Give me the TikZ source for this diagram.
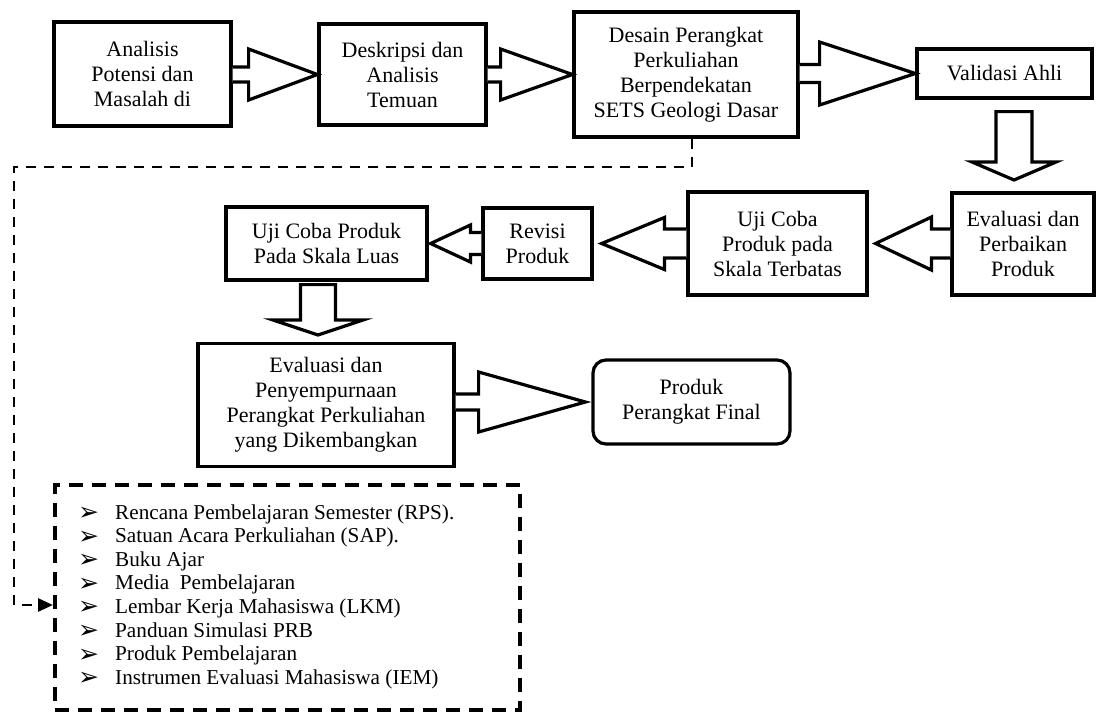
\documentclass[tikz,border=0pt]{standalone}
\usepackage{fontspec}
\setmainfont{Liberation Serif}
\newfontfamily\djv{DejaVu Sans}
\usetikzlibrary{arrows.meta,calc}
% horizontal block arrow: start anchor, tip point, shaft length, shaft half height, head half height
\newcommand\harrow[5]{%
  \draw[blk] let \p1=(#1), \p2=(#2) in
    (\x1,{\y2+#4}) -- ({\x1+(#3)},{\y2+#4}) -- ({\x1+(#3)},{\y2+#5}) -- (\x2,\y2)
    -- ({\x1+(#3)},{\y2-#5}) -- ({\x1+(#3)},{\y2-#4}) -- (\x1,{\y2-#4});}
% vertical (downward) block arrow: start point (top of shaft), tip point, shaft half width, head half width, head length
\newcommand\varrow[5]{%
  \draw[blk] let \p1=(#1), \p2=(#2) in
    ({\x2-#3},\y1) -- ({\x2-#3},{\y2+#5}) -- ({\x2-#4},{\y2+#5}) -- (\x2,\y2)
    -- ({\x2+#4},{\y2+#5}) -- ({\x2+#3},{\y2+#5}) -- ({\x2+#3},\y1) -- cycle;}
\newcommand\blt{\makebox[37pt][l]{\raisebox{-1.5pt}[0pt][0pt]{\djv\fontsize{25}{25}\selectfont ➢}}}
\begin{document}
\begin{tikzpicture}[x=1pt,y=-1pt,
  box/.style={draw, line width=3.2pt, align=center, inner sep=0pt,
    font=\fontsize{22}{25}\selectfont},
  blk/.style={draw, line width=3.2pt, line join=miter, fill=white},
  dcon/.style={line width=2.8pt, dash pattern=on 10pt off 8pt,
    -{Triangle[length=15pt,width=13pt]}},
  dbox/.style={draw, line width=4pt, dash pattern=on 14pt off 9pt}]
\useasboundingbox (0,0) rectangle (1097,713);

% boxes
\node[box, minimum width=177pt, minimum height=104pt] (n1) at (142.5,74)
  {Analisis\\Potensi dan\\Masalah di};
\node[box, minimum width=167pt, minimum height=101pt] (n2) at (402.5,74.5)
  {Deskripsi dan\\Analisis\\Temuan};
\node[box, minimum width=224pt, minimum height=125pt] (n3) at (686,74.5)
  {Desain Perangkat\\Perkuliahan\\Berpendekatan\\SETS Geologi Dasar};
\node[box, minimum width=175pt, minimum height=49pt] (n4) at (1004.5,73.5)
  {Validasi Ahli};
\node[box, minimum width=142pt, minimum height=102pt] (n5) at (1023,244)
  {Evaluasi dan\\Perbaikan\\Produk};
\node[box, minimum width=179pt, minimum height=103pt] (n6) at (777.5,243.5)
  {Uji Coba\\Produk pada\\Skala Terbatas};
\node[box, minimum width=109pt, minimum height=71pt] (n7) at (537.5,243.5)
  {Revisi\\Produk};
\node[box, minimum width=201pt, minimum height=73pt] (n8) at (326.5,243.5)
  {Uji Coba Produk\\Pada Skala Luas};
\node[box, minimum width=256pt, minimum height=123pt] (n9) at (326,405)
  {Evaluasi dan\\Penyempurnaan\\Perangkat Perkuliahan\\yang Dikembangkan};
\node[box, rounded corners=13pt, minimum width=197pt, minimum height=84pt] (n10) at (691.5,402)
  {Produk\\Perangkat Final};
\node[dbox, minimum width=465pt, minimum height=225pt] (n11) at (287.5,597.5) {};
\node[anchor=base west, inner sep=0pt, font=\fontsize{21.2}{23.6}\selectfont] (lst) at (78,519)
  {\begin{tabular}[t]{@{}l@{}}
   \blt Rencana Pembelajaran Semester (RPS).\\
   \blt Satuan Acara Perkuliahan (SAP).\\
   \blt Buku Ajar\\
   \blt Media~ Pembelajaran\\
   \blt Lembar Kerja Mahasiswa (LKM)\\
   \blt Panduan Simulasi PRB\\
   \blt Produk Pembelajaran\\
   \blt Instrumen Evaluasi Mahasiswa (IEM)
   \end{tabular}};

% block arrows
\harrow{n1.east}{n2.west}{16pt}{7.5pt}{25.5pt}
\harrow{n2.east}{n3.west}{13pt}{7.5pt}{25.5pt}
\harrow{n3.east}{n4.west}{20pt}{9pt}{31.5pt}
\coordinate (tA) at (1014,180);
\varrow{[yshift=-12pt]n4.south}{tA}{18pt}{42pt}{18pt}
\harrow{n5.west}{[xshift=7pt]n6.east}{-19pt}{14.5pt}{26.5pt}
\harrow{n6.west}{[xshift=8pt]n7.east}{-22pt}{14.5pt}{26pt}
\harrow{n7.west}{[xshift=2pt]n8.east}{-11pt}{11pt}{18.5pt}
\coordinate (tE) at (318,335);
\varrow{[yshift=-3pt]n8.south}{tE}{17.5pt}{45pt}{15pt}
\harrow{n9.east}{[xshift=-6pt]n10.west}{23pt}{8pt}{30pt}

% dashed connector
\coordinate (d1) at (14,167);
\coordinate (d2) at (14,605);
\draw[dcon] ([xshift=6pt]n3.south) |- (d1) -- (d2) -- (d2 -| n11.west);
\end{tikzpicture}
\end{document}
